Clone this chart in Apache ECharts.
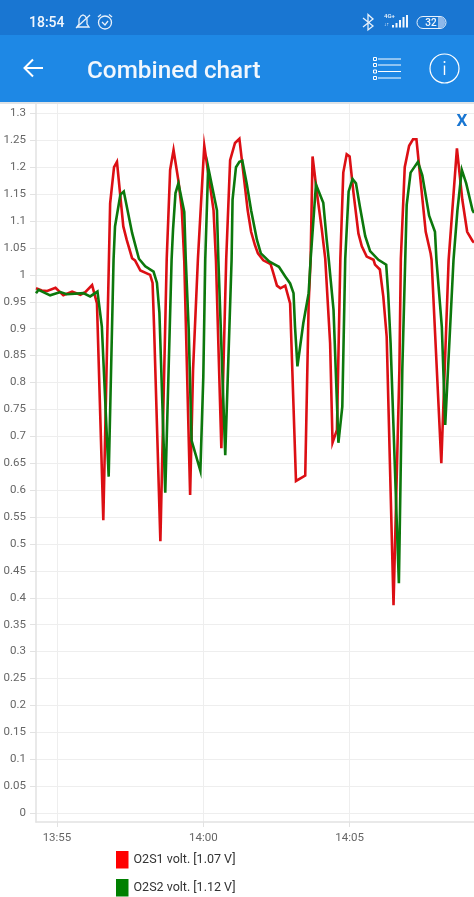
<!DOCTYPE html>
<html>
<head>
    <meta charset="utf-8">
    <title>Combined chart</title>
    <script src="https://cdn.jsdelivr.net/npm/echarts@6/dist/echarts.min.js"></script>
    <style>
        html, body {
            margin: 0;
            padding: 0;
            background: #fff;
        }

        #main {
            width: 474px;
            height: 897px;
        }
    </style>
</head>
<body>
<div id="main"></div>
<script>
    // seconds after 13:55, voltage in V
    var redTimes = [-43, -31, -20, -3, 13, 31, 48, 58, 72, 82, 95, 109, 117, 123, 136, 143, 154, 160, 171, 191, 196, 199, 212, 225, 228, 232, 239, 249, 256, 261, 273, 279, 289, 297, 302, 314, 321, 326, 337, 347, 355, 365, 374, 391, 398, 406, 412, 423, 438, 443, 451, 458, 468, 478, 490, 509, 516, 520, 524, 533, 543, 550, 560, 565, 574, 581, 587, 594, 600, 608, 618, 625, 635, 649, 652, 662, 669, 676, 690, 702, 705, 713, 722, 730, 737, 746, 756, 766, 768, 788, 803, 820, 831, 841, 852, 855];
    var redValues = [0.975, 0.971, 0.970, 0.976, 0.962, 0.969, 0.963, 0.968, 0.981, 0.947, 0.544, 1.133, 1.200, 1.210, 1.090, 1.065, 1.031, 1.027, 1.008, 1.000, 0.985, 0.905, 0.505, 1.030, 1.100, 1.195, 1.232, 1.175, 1.120, 1.025, 0.591, 0.823, 1.030, 1.160, 1.240, 1.165, 1.120, 1.026, 0.678, 1.030, 1.213, 1.245, 1.253, 1.120, 1.080, 1.055, 1.040, 1.027, 1.020, 1.005, 0.980, 0.975, 0.980, 0.947, 0.617, 0.627, 0.947, 1.028, 1.220, 1.152, 1.084, 1.030, 0.873, 0.688, 0.712, 1.030, 1.190, 1.224, 1.220, 1.152, 1.077, 1.053, 1.034, 1.028, 1.019, 1.010, 0.960, 0.885, 0.386, 0.823, 1.030, 1.200, 1.240, 1.252, 1.252, 1.170, 1.080, 1.040, 1.028, 0.650, 1.028, 1.235, 1.140, 1.080, 1.063, 1.060];
    var greenTimes = [-43, -38, -14, 7, 20, 54, 68, 83, 92, 106, 116, 119, 130, 137, 154, 168, 181, 198, 205, 210, 222, 235, 238, 243, 249, 261, 264, 270, 276, 294, 300, 304, 310, 328, 331, 345, 358, 360, 367, 374, 380, 389, 398, 410, 418, 435, 445, 455, 458, 468, 478, 485, 488, 493, 505, 516, 520, 531, 546, 553, 557, 567, 577, 585, 591, 598, 606, 613, 621, 632, 642, 659, 675, 679, 684, 701, 708, 714, 717, 725, 740, 749, 763, 775, 778, 789, 796, 813, 821, 830, 839, 852, 855];
    var greenValues = [0.966, 0.972, 0.962, 0.968, 0.964, 0.966, 0.960, 0.969, 0.904, 0.625, 1.028, 1.090, 1.149, 1.155, 1.078, 1.030, 1.016, 1.006, 0.985, 0.930, 0.595, 1.028, 1.085, 1.152, 1.170, 1.117, 1.030, 0.900, 0.692, 0.636, 0.810, 1.028, 1.200, 1.120, 1.025, 0.665, 1.028, 1.140, 1.200, 1.210, 1.212, 1.170, 1.120, 1.065, 1.040, 1.025, 1.020, 1.015, 1.012, 0.997, 0.984, 0.966, 0.904, 0.830, 0.910, 0.966, 1.028, 1.168, 1.134, 1.065, 1.030, 0.935, 0.688, 0.755, 1.030, 1.155, 1.178, 1.170, 1.127, 1.072, 1.044, 1.028, 1.019, 0.966, 0.873, 0.427, 0.823, 1.028, 1.130, 1.190, 1.210, 1.185, 1.110, 1.080, 1.028, 0.904, 0.721, 1.028, 1.120, 1.195, 1.170, 1.120, 1.115];
    var yTickLabels = ['0', '0.05', '0.1', '0.15', '0.2', '0.25', '0.3', '0.35', '0.4', '0.45', '0.5', '0.55', '0.6', '0.65', '0.7', '0.75', '0.8', '0.85', '0.9', '0.95', '1', '1.05', '1.1', '1.15', '1.2', '1.25', '1.3'];
    var xTickTimes = [0, 300, 600];
    var xTickLabels = ['13:55', '14:00', '14:05'];
    var seriesNames = ['O2S1 volt. [1.07 V]', 'O2S2 volt. [1.12 V]'];

    function zip(times, values) {
        var out = [];
        for (var i = 0; i < times.length && i < values.length; i++) {
            out.push([times[i], values[i]]);
        }
        return out;
    }

    var white = {stroke: '#fff', lineWidth: 2, fill: 'none'};
    var thin = {stroke: '#e8f1fb', lineWidth: 1.3, fill: 'none'};

    function line(x1, y1, x2, y2, style) {
        return {type: 'line', shape: {x1: x1, y1: y1, x2: x2, y2: y2}, style: style, z: 20};
    }

    function poly(points, style) {
        return {type: 'polyline', shape: {points: points}, style: style, z: 20};
    }

    function label(x, y, text, size, weight, align) {
        return {
            type: 'text', x: x, y: y, z: 20,
            style: {
                text: text, fill: '#f2f7fd', fontFamily: 'Roboto', fontSize: size, fontWeight: weight,
                align: align || 'left', verticalAlign: 'middle'
            }
        };
    }

    // app bar and phone status bar
    var header = [
        {type: 'rect', shape: {x: 0, y: 0, width: 474, height: 35}, style: {fill: '#1976d2'}, z: 10},
        {type: 'rect', shape: {x: 0, y: 35, width: 474, height: 67}, style: {fill: '#1e88e5'}, z: 10},
        {type: 'rect', shape: {x: 0, y: 102, width: 474, height: 2}, style: {fill: '#dfe3e6'}, z: 10},
        label(29, 23.5, '18:54', 14, 500),
        // muted bell
        poly([[77, 27], [79, 24], [79, 19], [81, 16], [83, 15], [85, 16], [87, 19], [87, 24], [89, 27], [77, 27]], thin),
        line(76, 28, 90, 15, thin),
        // alarm clock
        {type: 'circle', shape: {cx: 105, cy: 22.5, r: 6.5}, style: thin, z: 20},
        poly([[102, 22], [105, 25], [108, 21]], thin),
        line(98, 17, 101, 14.5, thin),
        line(109, 14.5, 112, 17, thin),
        // bluetooth
        poly([[363, 18], [373, 26], [368, 30], [368, 14.5], [373, 19], [363, 27]], thin),
        label(384, 16.5, '4G+', 6, 500),
        label(384, 25, '↓↑', 5, 400),
        {type: 'rect', shape: {x: 392, y: 25, width: 2, height: 2.5}, style: {fill: '#f2f7fd'}, z: 20},
        {type: 'rect', shape: {x: 395.5, y: 23, width: 2, height: 4.5}, style: {fill: '#f2f7fd'}, z: 20},
        {type: 'rect', shape: {x: 399, y: 20, width: 2, height: 7.5}, style: {fill: '#f2f7fd'}, z: 20},
        {type: 'rect', shape: {x: 402.5, y: 17, width: 2, height: 10.5}, style: {fill: '#f2f7fd'}, z: 20},
        {type: 'rect', shape: {x: 406, y: 15, width: 2, height: 12.5}, style: {fill: '#f2f7fd'}, z: 20},
        // battery
        {type: 'rect', shape: {x: 438, y: 17, width: 7, height: 11, r: [0, 5, 5, 0]}, style: {fill: '#8db8ea'}, z: 20},
        {type: 'rect', shape: {x: 417, y: 16.5, width: 29, height: 12, r: 6}, style: {stroke: '#e8f1fb', lineWidth: 1, fill: 'none'}, z: 20},
        label(431, 23, '32', 10, 500, 'center'),
        // back arrow
        line(25, 68, 43, 68, white),
        poly([[33, 59.5], [24.5, 68], [33, 76.5]], white),
        label(87, 71.5, 'Combined chart', 24.3, 500),
        // list icon
        line(378, 59, 401, 59, {stroke: '#fff', lineWidth: 1}),
        line(378, 65, 401, 65, {stroke: '#fff', lineWidth: 1}),
        line(378, 71.5, 401, 71.5, {stroke: '#fff', lineWidth: 1}),
        line(378, 78, 401, 78, {stroke: '#fff', lineWidth: 1}),
        {type: 'rect', shape: {x: 373.5, y: 57.5, width: 3, height: 3}, style: {stroke: '#fff', lineWidth: 1, fill: 'none'}, z: 20},
        {type: 'rect', shape: {x: 373.5, y: 63.5, width: 3, height: 3}, style: {stroke: '#fff', lineWidth: 1, fill: 'none'}, z: 20},
        {type: 'rect', shape: {x: 373.5, y: 70, width: 3, height: 3}, style: {stroke: '#fff', lineWidth: 1, fill: 'none'}, z: 20},
        {type: 'rect', shape: {x: 373.5, y: 76.5, width: 3, height: 3}, style: {stroke: '#fff', lineWidth: 1, fill: 'none'}, z: 20},
        // info icon
        {type: 'circle', shape: {cx: 444.5, cy: 68.5, r: 14.5}, style: {stroke: '#fff', lineWidth: 1.2, fill: 'none'}, z: 20},
        line(444.5, 65.5, 444.5, 75, {stroke: '#fff', lineWidth: 1.4}),
        {type: 'circle', shape: {cx: 444.5, cy: 62, r: 1}, style: {fill: '#fff'}, z: 20},
        {
            type: 'text', x: 462, y: 122, z: 20,
            style: {
                text: 'X', fill: '#1976d2', fontFamily: 'Roboto', fontSize: 17, fontWeight: 700,
                align: 'center', verticalAlign: 'middle'
            }
        }
    ];

    var myChart = echarts.init(document.getElementById('main'), null, {renderer: 'canvas'});
    var option = {
        animation: false,
        backgroundColor: '#fff',
        textStyle: {fontFamily: 'Roboto'},
        grid: {left: 36, right: 0, top: 104, bottom: 75},
        legend: {
            orient: 'vertical',
            left: 116,
            top: 851,
            height: 60,
            itemWidth: 12.5,
            itemHeight: 17.5,
            itemGap: 10.5,
            icon: 'rect',
            selectedMode: false,
            padding: 0,
            textStyle: {color: '#333', fontSize: 12.5, fontFamily: 'Roboto', padding: [4, 0, 0, 0]},
            data: seriesNames
        },
        xAxis: {
            type: 'value',
            min: -43,
            max: 855,
            axisLine: {onZero: false, lineStyle: {color: '#e2e2e2', width: 1.5}},
            axisTick: {length: 5, lineStyle: {color: '#e2e2e2'}, customValues: xTickTimes},
            axisLabel: {
                customValues: xTickTimes,
                color: '#666',
                fontSize: 11.5,
                margin: 10,
                formatter: function (v) {
                    return xTickLabels[xTickTimes.indexOf(v)];
                }
            },
            splitLine: {show: true, lineStyle: {color: '#eeeeee', width: 1}}
        },
        yAxis: {
            type: 'value',
            min: -0.0167,
            max: 1.3175,
            axisLine: {show: true, onZero: false, lineStyle: {color: '#e2e2e2', width: 1.5}},
            axisTick: {show: true, length: 6, lineStyle: {color: '#e2e2e2'}, customValues: yTickLabels.map(Number)},
            axisLabel: {
                customValues: yTickLabels.map(Number),
                color: '#666',
                fontSize: 11.5,
                margin: 10,
                formatter: function (v) {
                    return String(v);
                }
            },
            splitLine: {show: true, lineStyle: {color: '#eeeeee', width: 1}}
        },
        series: [
            {
                name: seriesNames[0],
                type: 'line',
                data: zip(redTimes, redValues),
                showSymbol: false,
                itemStyle: {color: '#ff0000'},
                lineStyle: {color: '#dc0f14', width: 2.6, join: 'miter'}
            },
            {
                name: seriesNames[1],
                type: 'line',
                data: zip(greenTimes, greenValues),
                showSymbol: false,
                itemStyle: {color: '#008000'},
                lineStyle: {color: '#0c780c', width: 2.6, join: 'miter'}
            }
        ],
        graphic: header
    };
    myChart.setOption(option);
</script>
</body>
</html>
